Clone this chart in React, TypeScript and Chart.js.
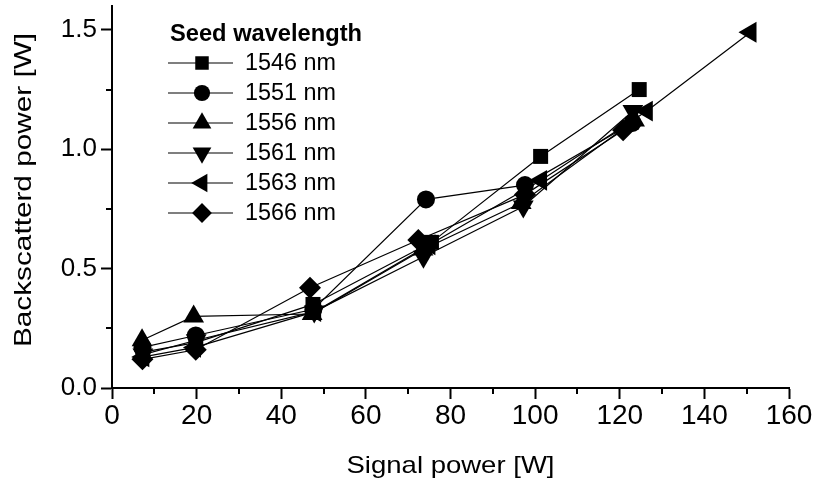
import React, { useEffect, useRef } from "react";
import { Chart, registerables } from "chart.js";

Chart.register(...registerables);

// ---- Data ----
const wavelengths = ["1546 nm", "1551 nm", "1556 nm", "1561 nm", "1563 nm", "1566 nm"];

const signal1546 = [7.3, 19.8, 47.5, 75.5, 101.3, 124.6];
const back1546 = [0.15, 0.19, 0.35, 0.61, 0.97, 1.25];

const signal1551 = [7.2, 19.8, 47.6, 74.2, 97.6, 123.0];
const back1551 = [0.17, 0.22, 0.33, 0.79, 0.85, 1.11];

const signal1556 = [7.1, 19.3, 47.3, 73.5, 96.7, 123.5];
const back1556 = [0.2, 0.3, 0.31, 0.58, 0.775, 1.12];

const signal1561 = [7.3, 19.9, 47.8, 73.6, 97.2, 123.1];
const back1561 = [0.14, 0.2, 0.32, 0.55, 0.76, 1.16];

const signal1563 = [7.4, 19.6, 48.0, 75.0, 101.4, 126.4, 150.9];
const back1563 = [0.13, 0.17, 0.32, 0.6, 0.87, 1.16, 1.49];

const signal1566 = [7.2, 19.8, 46.8, 72.4, 97.6, 120.8];
const back1566 = [0.12, 0.16, 0.42, 0.62, 0.81, 1.08];

const xTicks = [0, 20, 40, 60, 80, 100, 120, 140, 160];
const yTicks = [0, 0.5, 1.0, 1.5];
const xMinorTicks = [10, 30, 50, 70, 90, 110, 130, 150];
const yMinorTicks = [0.25, 0.75, 1.25];

const xTitle = "Signal power [W]";
const yTitle = "Backscatterd power [W]";
const legendTitle = "Seed wavelength";

const FONT = "'Liberation Sans', Arial, sans-serif";

type MarkerDef = { style: string; rotation: number; radius: number };
const markers: MarkerDef[] = [
  { style: "rect", rotation: 0, radius: 10.6 },
  { style: "circle", rotation: 0, radius: 9 },
  { style: "triangle", rotation: 0, radius: 12 },
  { style: "triangle", rotation: 180, radius: 12 },
  { style: "triangle", rotation: 270, radius: 12 },
  { style: "rectRot", rotation: 0, radius: 11 },
];

const seriesX = [signal1546, signal1551, signal1556, signal1561, signal1563, signal1566];
const seriesY = [back1546, back1551, back1556, back1561, back1563, back1566];

function drawMarker(ctx: CanvasRenderingContext2D, m: MarkerDef, x: number, y: number, r: number) {
  ctx.beginPath();
  if (m.style === "rect") {
    const s = Math.SQRT1_2 * r;
    ctx.rect(x - s, y - s, 2 * s, 2 * s);
  } else if (m.style === "circle") {
    ctx.arc(x, y, r, 0, Math.PI * 2);
  } else if (m.style === "rectRot") {
    ctx.moveTo(x, y - r);
    ctx.lineTo(x + r, y);
    ctx.lineTo(x, y + r);
    ctx.lineTo(x - r, y);
    ctx.closePath();
  } else {
    let rad = (m.rotation * Math.PI) / 180;
    for (let i = 0; i < 3; i++) {
      const px = x + Math.sin(rad) * r;
      const py = y - Math.cos(rad) * r;
      if (i === 0) ctx.moveTo(px, py);
      else ctx.lineTo(px, py);
      rad += (2 * Math.PI) / 3;
    }
    ctx.closePath();
  }
  ctx.fill();
}

function stretchText(
  ctx: CanvasRenderingContext2D,
  text: string,
  x: number,
  y: number,
  font: string,
  width: number,
  align: CanvasTextAlign,
  rotate = 0
) {
  ctx.save();
  ctx.font = font;
  const w = ctx.measureText(text).width;
  const s = width / w;
  ctx.translate(x, y);
  if (rotate) ctx.rotate(rotate);
  ctx.scale(s, 1);
  ctx.textAlign = align;
  ctx.textBaseline = "middle";
  ctx.fillStyle = "#000";
  ctx.fillText(text, 0, 0);
  ctx.restore();
}

const decorPlugin = {
  id: "decor",
  afterDraw(chart: any) {
    const ctx: CanvasRenderingContext2D = chart.ctx;
    const xs = chart.scales.x;
    const ys = chart.scales.y;
    const area = chart.chartArea;
    ctx.save();
    // minor ticks
    ctx.strokeStyle = "#000";
    ctx.lineWidth = 2;
    xMinorTicks.forEach((v) => {
      const px = Math.round(xs.getPixelForValue(v));
      ctx.beginPath();
      ctx.moveTo(px, area.bottom);
      ctx.lineTo(px, area.bottom + 6);
      ctx.stroke();
    });
    yMinorTicks.forEach((v) => {
      const py = Math.round(ys.getPixelForValue(v));
      ctx.beginPath();
      ctx.moveTo(area.left - 6, py);
      ctx.lineTo(area.left, py);
      ctx.stroke();
    });

    // axis titles
    stretchText(ctx, xTitle, (area.left + area.right) / 2, 466, `24px ${FONT}`, 208, "center");
    stretchText(ctx, yTitle, 24, 190, `24px ${FONT}`, 314, "center", -Math.PI / 2);

    // legend
    stretchText(ctx, legendTitle, 170, 35, `bold 23px ${FONT}`, 192, "left");
    wavelengths.forEach((label, i) => {
      const y = 63 + i * 30;
      ctx.strokeStyle = "#000";
      ctx.lineWidth = 1.2;
      ctx.beginPath();
      ctx.moveTo(168, y);
      ctx.lineTo(233, y);
      ctx.stroke();
      ctx.fillStyle = "#000";
      drawMarker(ctx, markers[i], 202, y, markers[i].radius * 0.9);
      stretchText(ctx, label, 245, y + 1, `23px ${FONT}`, 91, "left");
    });
    ctx.restore();
  },
};

export default function App() {
  const canvasRef = useRef<HTMLCanvasElement | null>(null);

  useEffect(() => {
    const canvas = canvasRef.current;
    if (!canvas) return;
    const datasets = wavelengths.map((label, i) => ({
      label,
      data: seriesX[i].map((x, j) => ({ x, y: seriesY[i][j] })),
      showLine: true,
      borderColor: "#000",
      borderWidth: 1.2,
      backgroundColor: "#000",
      pointStyle: markers[i].style as any,
      pointRotation: markers[i].rotation,
      pointRadius: markers[i].radius,
      pointBackgroundColor: "#000",
      pointBorderColor: "#000",
      pointBorderWidth: 0,
      tension: 0,
      clip: false as any,
    }));

    const chart = new Chart(canvas, {
      type: "scatter",
      data: { datasets },
      options: {
        animation: false,
        responsive: false,
        maintainAspectRatio: false,
        layout: { autoPadding: false, padding: { top: 6, right: 26, left: 0, bottom: 0 } },
        plugins: {
          legend: { display: false },
          tooltip: { enabled: false },
        },
        scales: {
          x: {
            type: "linear",
            min: xTicks[0],
            max: xTicks[xTicks.length - 1],
            afterBuildTicks: (s: any) => {
              s.ticks = xTicks.map((v) => ({ value: v }));
            },
            ticks: {
              color: "#000",
              font: { family: FONT, size: 28 },
              padding: 0,
              maxRotation: 0,
              autoSkip: false,
            },
            grid: {
              drawOnChartArea: false,
              drawTicks: true,
              tickLength: 11,
              tickWidth: 2,
              tickColor: "#000",
            },
            border: { color: "#000", width: 2 },
            afterFit: (s: any) => {
              s.height = 101;
              s.paddingLeft = 0;
              s.paddingRight = 0;
            },
          },
          y: {
            type: "linear",
            min: 0,
            max: 1.6,
            afterBuildTicks: (s: any) => {
              s.ticks = yTicks.map((v) => ({ value: v }));
            },
            ticks: {
              color: "#000",
              font: { family: FONT, size: 26 },
              padding: 4,
              callback: (v: any) => Number(v).toFixed(1),
            },
            grid: {
              drawOnChartArea: false,
              drawTicks: true,
              tickLength: 11,
              tickWidth: 2,
              tickColor: "#000",
            },
            border: { color: "#000", width: 2 },
            afterFit: (s: any) => {
              s.width = 112;
              s.paddingTop = 0;
              s.paddingBottom = 0;
            },
          },
        },
      },
      plugins: [decorPlugin],
    });

    return () => chart.destroy();
  }, []);

  return (
    <div style={{ position: "absolute", left: 0, top: 0, width: 815, height: 489, background: "#fff" }}>
      <canvas ref={canvasRef} width={815} height={489} style={{ display: "block" }} />
    </div>
  );
}
